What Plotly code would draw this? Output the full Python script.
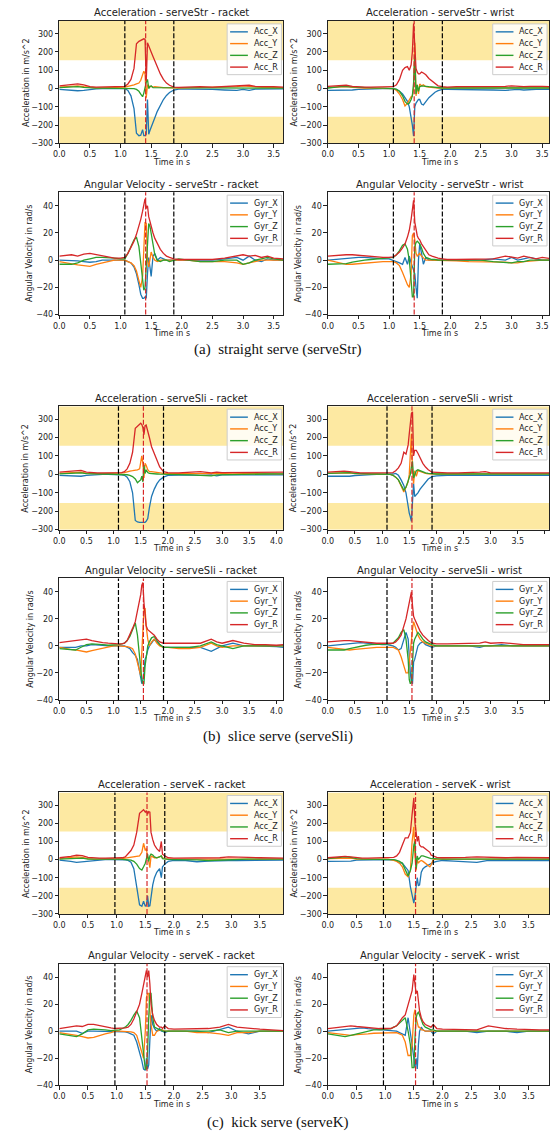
import plotly.graph_objects as go

W, H = 550, 1137

# ---------------- time grids (s) ----------------
T_STR = [0.0, 0.1, 0.2, 0.3, 0.4, 0.5, 0.6, 0.7, 0.8, 0.9, 1.0,
         1.07, 1.12, 1.17, 1.22, 1.26, 1.30, 1.33, 1.36, 1.38, 1.40, 1.42, 1.44,
         1.46, 1.48, 1.50, 1.53, 1.56, 1.60, 1.65, 1.70, 1.75, 1.80, 1.87, 1.95,
         2.10, 2.30, 2.50, 2.70, 2.90, 3.00, 3.10, 3.20, 3.30, 3.40, 3.50, 3.66]
T_SLI = [0.0, 0.1, 0.2, 0.3, 0.4, 0.5, 0.6, 0.7, 0.8, 0.9, 1.0,
         1.09, 1.15, 1.20, 1.25, 1.30, 1.35, 1.40, 1.44, 1.48, 1.50, 1.52, 1.54,
         1.56, 1.58, 1.60, 1.63, 1.66, 1.70, 1.75, 1.80, 1.85, 1.92, 2.00, 2.20,
         2.40, 2.60, 2.80, 2.90, 3.00, 3.20, 3.40, 3.60, 3.80, 4.00, 4.13]
T_K = [0.0, 0.1, 0.2, 0.3, 0.4, 0.5, 0.6, 0.7, 0.8, 0.9, 0.97,
       1.05, 1.10, 1.15, 1.20, 1.25, 1.30, 1.35, 1.40, 1.44, 1.47, 1.50, 1.52,
       1.54, 1.56, 1.58, 1.60, 1.63, 1.66, 1.70, 1.75, 1.78, 1.80, 1.84, 1.90,
       2.00, 2.20, 2.40, 2.60, 2.80, 2.95, 3.10, 3.30, 3.50, 3.70, 3.91]

# event markers (s): start, impact, end
EV_STR = [1.07, 1.41, 1.87]
EV_SLI = [1.09, 1.55, 1.92]
EV_K = [0.97, 1.53, 1.84]
XMAX = {"serveStr": 3.66, "serveSli": 4.13, "serveK": 3.91}

# ---------------- serveStr ----------------
STR_RAC_ACC_X = [-5, -8, -10, -12, -10, -5, -2, 0, 0, 0, 0,
                 0, -10, -40, -110, -245, -258, -255, -225, -258, -258, -250, -60,
                 -250, -230, -210, -185, -160, -125, -90, -60, -38, -22, -8, -3,
                 -3, -3, -5, -8, -10, -5, -10, -3, -2, -3, -2, -2]
STR_RAC_ACC_Y = [8, 10, 15, 15, 10, 5, 4, 4, 5, 5, 6,
                 8, 12, 15, 20, 25, 30, 45, 85, 95, 80, -50, 20,
                 15, 10, 12, 8, 10, 8, 6, 5, 5, 4, 3, 3,
                 4, 5, 6, 8, 10, 15, 12, 8, 6, 8, 5, 5]
STR_RAC_ACC_Z = [5, 8, 10, 10, 6, 3, 2, 2, 2, 3, 3,
                 3, 3, 2, 0, -5, -15, -30, -45, -25, 10, 35, 50,
                 0, 10, 15, 5, 5, 3, 2, 2, 1, 1, 1, 1,
                 1, 2, 2, 3, 4, 5, 3, 2, 2, 2, 2, 2]
STR_RAC_ACC_R = [15, 18, 22, 25, 20, 10, 8, 8, 8, 9, 10,
                 12, 25, 50, 110, 245, 258, 262, 268, 272, 270, 40, 250,
                 230, 215, 200, 175, 150, 115, 80, 50, 30, 18, 8, 6,
                 8, 10, 8, 12, 12, 15, 18, 12, 10, 12, 10, 8]

STR_WRI_ACC_X = [-10, -10, -12, -10, -8, -5, -3, -2, -2, -1, 0,
                 0, -5, -15, -30, -50, -70, -100, -150, -200, -260, -100, -80,
                 -70, -60, -60, -85, -90, -70, -50, -35, -20, -12, -5, -5,
                 -5, -5, -5, -8, -10, -8, -5, -8, -5, -5, -5, -5]
STR_WRI_ACC_Y = [5, 8, 10, 10, 6, 3, 2, 2, 2, 2, 2,
                 0, -10, -30, -60, -95, -80, -60, -45, -40, 0, 250, -40,
                 20, -30, 25, 15, 20, 10, 8, 5, 5, 3, 3, 3,
                 3, 4, 5, 5, 6, 5, 5, 4, 4, 4, 4, 4]
STR_WRI_ACC_Z = [3, 8, 10, 10, 8, 4, 3, 2, 2, 2, 2,
                 0, -5, -15, -40, -70, -85, -80, -60, -40, 30, 180, -30,
                 20, -15, 10, 15, 15, 12, 10, 8, 5, 5, 3, 3,
                 3, 4, 3, 5, 4, 3, 3, 4, 3, 3, 3, 3]
STR_WRI_ACC_R = [12, 15, 18, 18, 12, 8, 8, 8, 8, 8, 9,
                 10, 20, 50, 100, 115, 120, 100, 130, 200, 355, 180, 110,
                 90, 80, 80, 90, 85, 75, 55, 40, 25, 15, 10, 8,
                 10, 10, 10, 12, 12, 15, 12, 10, 12, 10, 12, 10]

STR_RAC_GYR_X = [0, 0, 0, -0.5, -1, -1.5, -1, 0, 0, 0, 0,
                 0, -1, -2, -5, -10, -18, -25, -28, -28, -27, -28, -10,
                 2, -5, -12, 3, 5, 0, 2, 1, 0, 0, 0, 0,
                 -0.5, 0, 0, 1, 2, 0, 3, 0, -1, 1, 0, 0]
STR_RAC_GYR_Y = [-1, -2, -3, -3.5, -4, -4.5, -3, -2, -1, 0, 0,
                 0, -1, -2, -4, -8, -15, -20, -12, 10, 28, 27, 0,
                 -5, 0, 6, 2, 0, -1, 0, 0, 0, 0, 0, 0,
                 0, -1, -1, -1, -2, -3, -2, -1, 0, 0, 0, 0]
STR_RAC_GYR_Z = [-3, -3, -3, -2, 0, 1, 2, 2, 2, 1.5, 1,
                 1, 5, 10, 15, 17, 10, -2, -15, -22, -20, -5, 15,
                 27, 25, 20, 10, 4, 0, -1, 0, 0, -1, 0, 1,
                 0, -1, -1, 0, 0, -3, -2, 0, 1, 2, 1, 0]
STR_RAC_GYR_R = [3, 3.5, 4, 3, 4.5, 5, 4, 3, 2, 1.5, 1.5,
                 2, 5, 9, 14, 19, 25, 30, 36, 42, 45, 38, 40,
                 32, 28, 25, 20, 16, 12, 8, 5, 3, 2, 1, 0.5,
                 0.5, 0.5, 0.5, 1.5, 3, 4, 3, 3.5, 2, 3, 1.5, 1]

STR_WRI_GYR_X = [0, 0.5, 1, 1.5, 2, 2, 2, 1.5, 1.5, 1, 1,
                 0, -1, -2, -3, 2, -3, 3, -2, -5, -8, -10, -20,
                 -28, 0, 12, 5, -3, 2, 0, 0, 0, 0, 0, 0,
                 0, 0, 0, 1, 0, 2, 0, 1, 2, 1, 0, 0]
STR_WRI_GYR_Y = [0, -1, -2, -3, -3, -2.5, -2, -1.5, -1, -1, -1,
                 -1, -2, -4, -9, -14, -18, -20, -10, 18, 20, 15, 5,
                 3, 4, 5, 3, 2, 0, 0, 0, 0, -0.5, -0.5, -0.5,
                 -0.5, -1, -1, -1, -1.5, -2, -2, -1, -0.5, 0, 0, 0]
STR_WRI_GYR_Z = [-3, -3, -3, -2.5, -1.5, -0.5, 0, 0.5, 1, 1.5, 1.5,
                 2, 4, 7, 11, 12, 8, 0, -15, -27, -27, 10, 13,
                 14, 13, 12, 9, 5, 2, 1, 0.5, 0.5, 0, 0, 0,
                 0, 0, 0, -1, -2, -2, -1, -1, 0, 0, 0, 0]
STR_WRI_GYR_R = [3, 3.5, 4, 4, 4, 3.5, 3, 2.5, 2, 2, 2,
                 2.5, 4, 6, 9, 12, 17, 22, 30, 38, 44, 28, 22,
                 18, 16, 15, 12, 10, 7, 4, 3, 2, 1.5, 1, 0.5,
                 0.5, 0.5, 0.5, 1, 3, 2, 1.5, 3, 2, 1, 2, 1]

# ---------------- serveSli ----------------
SLI_RAC_ACC_X = [-5, -6, -8, -10, -10, -5, -2, -1, 0, 0, 0,
                 0, -2, -5, -15, -40, -100, -250, -258, -260, -260, -258, -260,
                 -258, -260, -255, -240, -180, -120, -80, -50, -30, -15, -5, -3,
                 -3, -5, -3, -8, -3, -3, -2, -2, -3, -2, -2]
SLI_RAC_ACC_Y = [5, 6, 8, 10, 12, 6, 4, 4, 4, 5, 5,
                 5, 8, 10, 15, 18, 20, 22, 25, 30, 60, 100, 60,
                 -20, 60, 50, 25, 15, 15, 12, 10, 8, 5, 4, 3,
                 3, 5, 4, 5, 3, 3, 4, 3, 3, 3, 3]
SLI_RAC_ACC_Z = [3, 4, 6, 8, 8, 4, 2, 2, 2, 2, 2,
                 2, 1, 0, -2, -5, -12, -25, -45, -35, -30, -10, -40,
                 50, 5, 25, 10, 5, 3, 2, 2, 1, 1, 0, -1,
                 -3, -5, -8, -3, -2, 0, 1, 2, 2, 3, 3]
SLI_RAC_ACC_R = [12, 14, 18, 22, 22, 12, 8, 8, 8, 9, 9,
                 8, 10, 15, 30, 60, 120, 250, 262, 272, 278, 270, 255,
                 215, 265, 268, 240, 200, 150, 110, 70, 40, 15, 10, 8,
                 10, 15, 8, 12, 10, 10, 8, 8, 10, 8, 12]

SLI_WRI_ACC_X = [-10, -10, -12, -12, -10, -6, -3, -2, -1, 0, 0,
                 0, 0, 2, 5, -5, -30, -60, -100, -180, -210, -230, -255,
                 -150, -50, -120, -110, -100, -80, -60, -40, -25, -12, -8, -5,
                 -5, -5, -8, -5, -5, -5, -5, -5, -5, -5, -5]
SLI_WRI_ACC_Y = [5, 6, 8, 10, 8, 4, 3, 2, 2, 2, 2,
                 2, 0, -5, -15, -30, -60, -95, -70, -40, 0, 100, 220,
                 20, -50, 20, -10, 20, 15, 8, 5, 3, 2, 2, 2,
                 3, 3, 5, 3, 3, 3, 3, 3, 3, 3, 3]
SLI_WRI_ACC_Z = [5, 7, 10, 12, 10, 5, 3, 2, 2, 2, 2,
                 2, 0, -5, -15, -30, -55, -85, -70, -40, -20, 0, 40,
                 70, -20, 0, 20, 25, 20, 12, 8, 5, 3, 2, 2,
                 2, 2, 3, 2, 2, 2, 2, 2, 2, 2, 2]
SLI_WRI_ACC_R = [12, 14, 16, 18, 15, 10, 8, 8, 8, 8, 8,
                 8, 9, 10, 20, 35, 60, 120, 110, 160, 220, 280, 330,
                 340, 100, 130, 130, 115, 90, 60, 40, 25, 12, 10, 8,
                 8, 8, 12, 15, 8, 8, 8, 8, 8, 8, 8]

SLI_RAC_GYR_X = [-1, -1, -1, -1, 0, 0, 1, 1, 0.5, 0, 0,
                 0, 0, 0, -1, -2, -5, -7, -10, -20, -26, -28, -25,
                 -20, -10, -8, -3, 0, 2, 5, 3, 1, -1, -1, -1,
                 -1, -1, -4, -2, 0, 2, 0, 0, 0, -0.5, -1]
SLI_RAC_GYR_Y = [-1, -2, -2.5, -3, -4, -4.5, -3.5, -2.5, -1.5, -0.5, 0,
                 0, 0, 0, -0.5, -1, -2, -6, -12, -20, -22, -5, 10,
                 27, 28, 15, 5, 0, 3, 5, 2, 0, -1, -1, -2,
                 -2, -1, 2, 0, -1, 0, 0, 0, 0, 0, 0]
SLI_RAC_GYR_Z = [-2, -2.5, -3, -3, -1, 1, 1.5, 1.5, 1, 0.5, 0.5,
                 1, 1.5, 2, 4, 7, 12, 17, 8, -10, -18, -25, -28,
                 -28, -15, -8, 0, 3, 6, 7, 4, 1, -1, -1, -1,
                 -1, 0, 3, 1, 0, -2, 0, 0, 0, 0, 0]
SLI_RAC_GYR_R = [2.5, 3, 3.5, 4, 4.5, 5, 4, 3, 2.5, 2, 1.5,
                 1.5, 1.5, 2, 4, 8, 13, 18, 25, 32, 38, 45, 47,
                 32, 25, 15, 12, 11, 10, 8, 5, 3, 2, 2, 2,
                 1.5, 2, 5, 3, 2, 4, 2, 1, 1, 0.5, 1]

SLI_WRI_GYR_X = [0, 0.5, 1, 1, 1.5, 2, 2.5, 2, 1.5, 1, 1,
                 1, 0.5, 0, -1, -3, -2, 5, 10, 5, -10, -20, -27,
                 -28, -12, -10, -5, 0, 2, 3, 1, 0, -1, 0, 0,
                 0, 0, -1, 0, 0, 1, 0, 0, 0, 0, 0]
SLI_WRI_GYR_Y = [-1, -1.5, -2, -2.5, -3, -2.5, -2, -1.5, -1, -1, -1,
                 -1, -1, -1, -2, -3, -8, -15, -20, -20, -12, 0, 8,
                 12, 18, 15, 12, 8, 5, 3, 2, 1, 0, 0, 0,
                 0, 0, 0, 0, 0, 0, 0, 0, 0, 0, 0]
SLI_WRI_GYR_Z = [-3, -3, -3, -3, -2, -1, 0, 0.5, 1, 1, 1,
                 1, 1.5, 2, 4, 6, 10, 12, 5, -10, -25, -28, -27,
                 -10, 2, 5, 8, 10, 8, 5, 3, 2, 1, 0, 0,
                 0, 0, 0, 0, 0, 0, 0, 0, 0, 0, 0]
SLI_WRI_GYR_R = [3, 3.5, 4, 4, 4, 3.5, 3.5, 3, 2.5, 2, 2,
                 2, 2, 2, 3, 5, 8, 14, 20, 28, 32, 35, 40,
                 30, 22, 20, 17, 14, 11, 8, 6, 4, 2, 1.5, 1.5,
                 1.5, 1.5, 2, 3, 2, 2.5, 1.5, 1, 1, 1, 1]

# ---------------- serveK ----------------
K_RAC_ACC_X = [-3, -5, -10, -15, -12, -5, -2, 0, 0, 0, 0,
               0, 0, -2, -5, -15, -50, -150, -250, -258, -230, -258, -250,
               -200, -258, -255, -200, -140, -100, -70, -50, -100, -40, -25, -10,
               -5, -5, -12, -8, -5, -5, -5, -5, -3, -3, -3]
K_RAC_ACC_Y = [5, 8, 12, 15, 12, 5, 3, 3, 3, 3, 3,
               3, 5, 8, 10, 12, 15, 18, 20, 40, 90, 50, 60,
               10, -10, -45, 20, 15, 10, 10, 15, 20, 10, 5, 3,
               3, 3, 5, 3, 3, 3, 5, 3, 3, 3, 3]
K_RAC_ACC_Z = [3, 5, 8, 10, 8, 3, 2, 2, 2, 2, 2,
               2, 1, 0, 0, -3, -10, -25, -50, -58, -40, -20, 5,
               30, -10, 20, 30, 25, 15, 10, 15, 20, 5, 3, 1,
               0, 0, -2, -5, -2, 0, 1, 2, 2, 2, 2]
K_RAC_ACC_R = [10, 12, 18, 25, 22, 12, 8, 8, 8, 8, 8,
               8, 10, 15, 30, 50, 80, 150, 255, 265, 275, 262, 270,
               250, 265, 262, 150, 110, 80, 60, 45, 100, 30, 20, 10,
               8, 8, 12, 12, 10, 15, 12, 12, 10, 10, 8]

K_WRI_ACC_X = [-10, -10, -10, -10, -8, -3, -2, -1, 0, 0, 0,
               0, 0, -2, -5, -20, -20, -40, -60, -150, -200, -240, -200,
               -150, -100, -145, -140, -70, -50, -40, -30, -25, -20, -15, -10,
               -5, -8, -10, -15, -5, -5, -5, -5, -5, -5, -5]
K_WRI_ACC_Y = [5, 6, 8, 10, 8, 3, 2, 2, 2, 2, 2,
               2, 0, -5, -10, -20, -40, -80, -95, -60, 100, 180, 20,
               -60, 0, -20, -10, -5, -10, -20, -30, -40, -30, 0, 3,
               3, 3, 3, 5, 3, 3, 3, 3, 3, 3, 3]
K_WRI_ACC_Z = [5, 8, 12, 15, 12, 5, 3, 3, 3, 3, 3,
               3, 2, 0, -5, -10, -20, -60, -90, -60, -20, 80, 100,
               -50, 20, 0, 10, 20, 20, 15, 10, 8, 5, 5, 3,
               3, 3, 3, 3, 3, 3, 3, 3, 3, 3, 3]
K_WRI_ACC_R = [10, 12, 15, 18, 15, 10, 8, 8, 8, 8, 8,
               8, 8, 12, 20, 40, 80, 120, 120, 150, 250, 340, 200,
               150, 100, 130, 80, 70, 70, 60, 45, 40, 25, 20, 12,
               10, 10, 12, 15, 12, 10, 10, 12, 10, 10, 10]

K_RAC_GYR_X = [0, 0, 0, 0, -1.5, 0, 0, 0, 0, 0, 0,
               0, 0, -0.5, -1, -2, -3, -8, -15, -22, -28, -29, -20,
               -28, -25, -10, 12, 5, 2, 0, 2, 0, 0, -1, 0,
               0, 0, 0, -1, 1, 3, 0, -2, 0, 0, 0]
K_RAC_GYR_Y = [-1, -1.5, -2, -3, -4, -5, -4.5, -3, -2, -1, 0,
               0, 0, 0, 0, -0.5, -1, -3, -10, -17, -20, 0, 25,
               28, 28, 15, 5, -3, -3, 0, 1, 1, 1, 0, 0,
               0, 0, -1, -1, -2, -3, -1, -1, 0, 0, 0]
K_RAC_GYR_Z = [-2, -2.5, -3, -4, -2, 1, 1.5, 1.5, 1, 0.5, 0.5,
               1, 2, 3, 5, 8, 12, 15, 10, -5, -20, -28, -28,
               -15, 10, 28, 28, 10, 3, 2, 1, 1, 0, 0, 0,
               0, 0, 0, 0, 1, -1, 0, 0, 0, 0, 0]
K_RAC_GYR_R = [2, 2.5, 3, 4, 3.5, 5, 5, 4, 3, 2.5, 2,
               2, 2, 2.5, 3, 5, 9, 14, 20, 28, 35, 42, 45,
               40, 45, 35, 20, 12, 8, 5, 3, 3, 2, 4, 2,
               1.5, 1.5, 2, 2, 3, 5, 3, 2, 1.5, 1, 0.5]

K_WRI_GYR_X = [0, 0.5, 1, 1, 1.5, 2, 2.5, 2, 1.5, 1, 1,
               0.5, 0, 0, 0, -1, -2, -3, 10, 0, -10, -20, -27,
               -20, -28, -10, 0, 3, 1, 0, 0, 0, 0, -2, 0,
               0, 0, 0, -1, 0, 0, 0, -1, 0, 0, 0]
K_WRI_GYR_Y = [-1, -1.5, -2, -3, -3, -2.5, -2.5, -2, -1.5, -1.5, -1,
               -1, -1, -1, -1, -2, -3, -8, -18, -18, -10, 12, 16,
               10, 5, 3, 3, 1, 1, 0, 0, 0, 0, 0, 0,
               0, 0, 0, 0, 0, 0, 0, 0, 0, 0, 0]
K_WRI_GYR_Z = [-2, -2.5, -3, -4, -3, -2, -1, 0, 1, 1, 1.5,
               2, 2, 3, 4, 6, 8, 10, 0, -10, -27, -27, -5,
               10, 13, 14, 12, 8, 5, 3, 2, 1, 1, 1, 0,
               0, 0, 0, 0, 0, 0, 0, 0, 0, 0, 0]
K_WRI_GYR_R = [2, 2.5, 3.5, 4, 4, 3.5, 3, 2.5, 2, 2, 2,
               2, 2, 3, 4, 7, 10, 12, 20, 25, 30, 42, 35,
               28, 30, 22, 15, 10, 7, 5, 4, 3, 3, 5, 2,
               1.5, 1.5, 1.5, 1, 4, 3, 2, 1.5, 1, 1, 1]

ACC_NAMES = ["Acc_X", "Acc_Y", "Acc_Z", "Acc_R"]
GYR_NAMES = ["Gyr_X", "Gyr_Y", "Gyr_Z", "Gyr_R"]
ACC_TICKS = [-300, -200, -100, 0, 100, 200, 300]
GYR_TICKS = [-40, -20, 0, 20, 40]
X_TICKS = [0.0, 0.5, 1.0, 1.5, 2.0, 2.5, 3.0, 3.5, 4.0]
ACC_RANGE = [-300, 370]
GYR_RANGE = [-40, 50]
BAND_LIMIT = 155

DATA = {
    ("serveStr", "racket", "acc"): [STR_RAC_ACC_X, STR_RAC_ACC_Y, STR_RAC_ACC_Z, STR_RAC_ACC_R],
    ("serveStr", "wrist", "acc"): [STR_WRI_ACC_X, STR_WRI_ACC_Y, STR_WRI_ACC_Z, STR_WRI_ACC_R],
    ("serveStr", "racket", "gyr"): [STR_RAC_GYR_X, STR_RAC_GYR_Y, STR_RAC_GYR_Z, STR_RAC_GYR_R],
    ("serveStr", "wrist", "gyr"): [STR_WRI_GYR_X, STR_WRI_GYR_Y, STR_WRI_GYR_Z, STR_WRI_GYR_R],
    ("serveSli", "racket", "acc"): [SLI_RAC_ACC_X, SLI_RAC_ACC_Y, SLI_RAC_ACC_Z, SLI_RAC_ACC_R],
    ("serveSli", "wrist", "acc"): [SLI_WRI_ACC_X, SLI_WRI_ACC_Y, SLI_WRI_ACC_Z, SLI_WRI_ACC_R],
    ("serveSli", "racket", "gyr"): [SLI_RAC_GYR_X, SLI_RAC_GYR_Y, SLI_RAC_GYR_Z, SLI_RAC_GYR_R],
    ("serveSli", "wrist", "gyr"): [SLI_WRI_GYR_X, SLI_WRI_GYR_Y, SLI_WRI_GYR_Z, SLI_WRI_GYR_R],
    ("serveK", "racket", "acc"): [K_RAC_ACC_X, K_RAC_ACC_Y, K_RAC_ACC_Z, K_RAC_ACC_R],
    ("serveK", "wrist", "acc"): [K_WRI_ACC_X, K_WRI_ACC_Y, K_WRI_ACC_Z, K_WRI_ACC_R],
    ("serveK", "racket", "gyr"): [K_RAC_GYR_X, K_RAC_GYR_Y, K_RAC_GYR_Z, K_RAC_GYR_R],
    ("serveK", "wrist", "gyr"): [K_WRI_GYR_X, K_WRI_GYR_Y, K_WRI_GYR_Z, K_WRI_GYR_R],
}
TIMES = {"serveStr": T_STR, "serveSli": T_SLI, "serveK": T_K}
EVENTS = {"serveStr": EV_STR, "serveSli": EV_SLI, "serveK": EV_K}
CAPTIONS = {"serveStr": "(a)\u2002straight serve (serveStr)",
            "serveSli": "(b)\u2002slice serve (serveSli)",
            "serveK": "(c)\u2002kick serve (serveK)"}

# ---------------- layout (pixels) ----------------
COLORS = ["#1f77b4", "#ff7f0e", "#2ca02c", "#d62728"]
BAND_COLOR = "#FDE9A2"
COLS = {"racket": (54, 281), "wrist": (326, 550)}
FULL_W = 227
ROWS = {
    ("serveStr", "acc"): (21, 144), ("serveStr", "gyr"): (193, 316),
    ("serveSli", "acc"): (408, 532), ("serveSli", "gyr"): (581, 703),
    ("serveK", "acc"): (796, 918), ("serveK", "gyr"): (968, 1090),
}
CAP_Y = {"serveStr": 351, "serveSli": 740, "serveK": 1127}
SANS = "DejaVu Sans"


def px(x):
    return x / W


def py(y):
    return 1 - y / H


fig = go.Figure()
shapes, annotations = [], []
layout_axes = {}
n = 0
for serve in ["serveStr", "serveSli", "serveK"]:
    t = TIMES[serve]
    for kind in ["acc", "gyr"]:
        top, bot = ROWS[(serve, kind)]
        for sensor in ["racket", "wrist"]:
            n += 1
            l, r = COLS[sensor]
            xs = "" if n == 1 else str(n)
            xref, yref = "x" + xs, "y" + xs
            xmax = XMAX[serve] * (r - l) / FULL_W
            yrange = ACC_RANGE if kind == "acc" else GYR_RANGE
            yticks = ACC_TICKS if kind == "acc" else GYR_TICKS
            common = dict(showgrid=False, zeroline=False, showline=True, mirror=True,
                          linecolor="#222", linewidth=1, ticks="outside", ticklen=3.5,
                          tickwidth=0.8, tickcolor="#222",
                          tickfont=dict(family=SANS, size=8, color="#222"))
            layout_axes["xaxis" + xs] = dict(
                common, domain=[px(l), px(r)], range=[0, xmax], anchor=yref,
                tickmode="array", tickvals=X_TICKS,
                ticktext=["%.1f" % v for v in X_TICKS])
            layout_axes["yaxis" + xs] = dict(
                common, domain=[py(bot), py(top)], range=yrange, anchor=xref,
                tickmode="array", tickvals=yticks)

            # yellow threshold bands
            if kind == "acc":
                shapes.append(dict(type="rect", xref=xref + " domain", yref=yref,
                                   x0=0, x1=1, y0=BAND_LIMIT, y1=ACC_RANGE[1],
                                   fillcolor=BAND_COLOR, line=dict(width=0), layer="below"))
                shapes.append(dict(type="rect", xref=xref + " domain", yref=yref,
                                   x0=0, x1=1, y0=ACC_RANGE[0], y1=-BAND_LIMIT,
                                   fillcolor=BAND_COLOR, line=dict(width=0), layer="below"))

            names = ACC_NAMES if kind == "acc" else GYR_NAMES
            for name, vals, col in zip(names, DATA[(serve, sensor, kind)], COLORS):
                fig.add_trace(go.Scatter(x=t, y=vals, xaxis=xref, yaxis=yref, mode="lines",
                                         name=name, showlegend=False,
                                         line=dict(color=col, width=1.3)))

            # event lines
            for i, ev in enumerate(EVENTS[serve]):
                shapes.append(dict(type="line", xref=xref, yref=yref + " domain",
                                   x0=ev, x1=ev, y0=0, y1=1, layer="above",
                                   line=dict(color="#d62728" if i == 1 else "black",
                                             width=1.2, dash="5px,2px")))

            # titles
            title = ("Acceleration" if kind == "acc" else "Angular Velocity") + \
                " - " + serve + " - " + sensor
            annotations.append(dict(text=title, x=px((l + l + FULL_W) / 2), y=py(top - 8),
                                    xref="paper", yref="paper", showarrow=False,
                                    xanchor="center", yanchor="middle",
                                    font=dict(family=SANS, size=10, color="#222")))
            annotations.append(dict(text="Time in s", x=px((l + l + FULL_W) / 2), y=py(bot + 19),
                                    xref="paper", yref="paper", showarrow=False,
                                    xanchor="center", yanchor="middle",
                                    font=dict(family=SANS, size=8, color="#222")))
            ytitle = "Acceleration in m/s^2" if kind == "acc" else "Angular Velocity in rad/s"
            yoff = 34 if kind == "acc" else 30
            annotations.append(dict(text=ytitle, x=px(l - yoff), y=py((top + bot) / 2),
                                    xref="paper", yref="paper", showarrow=False,
                                    textangle=-90, xanchor="center", yanchor="middle",
                                    font=dict(family=SANS, size=8, color="#222")))

            # legend box
            bl, br = r - 57, r - 2
            bt, bb = top + 3, top + 54
            shapes.append(dict(type="rect", xref="paper", yref="paper",
                               x0=px(bl), x1=px(br), y0=py(bb), y1=py(bt),
                               fillcolor="rgba(255,255,255,0.85)",
                               line=dict(color="#cccccc", width=1), layer="above"))
            for i, (name, col) in enumerate(zip(names, COLORS)):
                ey = top + 11 + i * 11.8
                shapes.append(dict(type="line", xref="paper", yref="paper",
                                   x0=px(bl + 3), x1=px(bl + 21), y0=py(ey), y1=py(ey),
                                   line=dict(color=col, width=1.4), layer="above"))
                annotations.append(dict(text=name, x=px(bl + 25), y=py(ey),
                                        xref="paper", yref="paper", showarrow=False,
                                        xanchor="left", yanchor="middle",
                                        font=dict(family=SANS, size=8, color="#222")))
    annotations.append(dict(text=CAPTIONS[serve], x=0.5, y=py(CAP_Y[serve]),
                            xref="paper", yref="paper", showarrow=False,
                            xanchor="center", yanchor="middle",
                            font=dict(family="Liberation Serif", size=15, color="#111")))

fig.update_layout(width=W, height=H, margin=dict(l=0, r=0, t=0, b=0),
                  plot_bgcolor="white", paper_bgcolor="white",
                  showlegend=False, shapes=shapes, annotations=annotations,
                  font=dict(family=SANS), **layout_axes)
fig.write_html("out.html", config={"displayModeBar": False},
               post_script="document.body.style.margin='0';document.body.style.overflow='hidden';")
